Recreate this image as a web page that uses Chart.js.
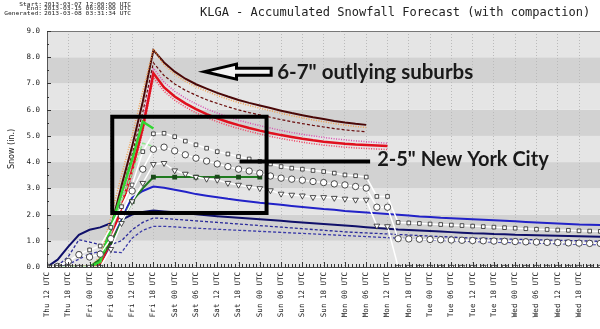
<!DOCTYPE html>
<html>
<head>
<meta charset="utf-8">
<script src="https://cdn.jsdelivr.net/npm/chart.js@4.4.0/dist/chart.umd.min.js"></script>
<style>
  html, body { margin: 0; padding: 0; overflow: hidden; background: #fff; }
  #wrap { width: 640px; height: 329px; }
</style>
</head>
<body>
<div id="wrap"><canvas id="plume" width="640" height="329"></canvas></div>
<script>
// Forecast hours since Thu 12 UTC (3-hourly)
const hours = [0, 3, 6, 9, 12, 15, 18, 21, 24, 27, 30, 33, 36, 39, 42, 45, 48, 51, 54, 57,
    60, 63, 66, 69, 72, 75, 78, 81, 84, 87, 90, 93, 96, 99, 102, 105, 108, 111, 114, 117,
    120, 123, 126, 129, 132, 135, 138, 141, 144, 147, 150, 153, 156];

// x tick labels, one every 6 hours
const tickLabels = ['Thu 12 UTC', 'Thu 18 UTC', 'Fri 00 UTC', 'Fri 06 UTC', 'Fri 12 UTC', 'Fri 18 UTC',
    'Sat 00 UTC', 'Sat 06 UTC', 'Sat 12 UTC', 'Sat 18 UTC', 'Sun 00 UTC', 'Sun 06 UTC',
    'Sun 12 UTC', 'Sun 18 UTC', 'Mon 00 UTC', 'Mon 06 UTC', 'Mon 12 UTC', 'Mon 18 UTC',
    'Tue 00 UTC', 'Tue 06 UTC', 'Tue 12 UTC', 'Tue 18 UTC', 'Wed 00 UTC', 'Wed 06 UTC',
    'Wed 12 UTC', 'Wed 18 UTC'];

// red / orange members
const brown = [0, 0, 0, 0, 0, 0.25, 1.5, 3.1, 4.6, 6.3, 8.27, 7.8, 7.45, 7.18, 6.97, 6.8, 6.64, 6.5, 6.37, 6.26,
    6.16, 6.06, 5.96, 5.87, 5.79, 5.71, 5.64, 5.57, 5.51, 5.46, 5.42];
const orange = [0, 0, 0, 0, 0, 0.4, 1.9, 3.5, 5.0, 6.7, 8.32, 7.7, 7.35, 7.08, 6.87, 6.7, 6.54, 6.4, 6.27, 6.16,
    6.06, 5.96, 5.86, 5.77, 5.69, 5.61, 5.54, 5.47, 5.41, 5.36, 5.32];
const darkRed = [0, 0, 0, 0, 0, 0.2, 1.3, 2.8, 4.3, 5.9, 7.79, 7.3, 6.98, 6.74, 6.55, 6.38, 6.24, 6.11, 5.99, 5.89,
    5.8, 5.71, 5.62, 5.54, 5.47, 5.4, 5.34, 5.28, 5.23, 5.19, 5.16];
const pink = [0, 0, 0, 0, 0, 0.15, 1.2, 2.6, 4.0, 5.6, 7.58, 7.05, 6.7, 6.44, 6.22, 6.03, 5.87, 5.73, 5.6, 5.49,
    5.39, 5.3, 5.21, 5.13, 5.06, 5.0, 4.94, 4.89, 4.85, 4.81, 4.78, 4.75, 4.72];
const red = [0, 0, 0, 0, 0, 0.1, 1.0, 2.3, 3.7, 5.3, 7.39, 6.85, 6.5, 6.24, 6.02, 5.83, 5.67, 5.53, 5.41, 5.3,
    5.2, 5.11, 5.03, 4.96, 4.89, 4.83, 4.78, 4.74, 4.7, 4.67, 4.65, 4.63, 4.61];
const redDot = [0, 0, 0, 0, 0, 0.05, 0.9, 2.2, 3.55, 5.15, 7.22, 6.7, 6.36, 6.1, 5.88, 5.7, 5.54, 5.4, 5.28, 5.17,
    5.07, 4.98, 4.9, 4.83, 4.76, 4.7, 4.65, 4.61, 4.57, 4.54, 4.52, 4.5, 4.48];

// green members
const green = [0, 0, 0, 0, 0, 0.2, 1.5, 2.8, 4.1, 5.54, 5.28];
const lime = [0, 0, 0, 0, 0, 0.15, 1.3, 2.5, 3.6, 4.72, 4.6];
const darkGreen = [0, 0, 0, 0, 0, 0.3, 0.94, 1.7, 2.5, 3.0, 3.43, 3.43, 3.43, 3.43, 3.43, 3.43, 3.43, 3.43, 3.43, 3.43, 3.43];

// white marker lines
const squares = [0, 0.05, 0.2, 0.5, 0.65, 0.8, 1.51, 2.3, 3.13, 4.4, 5.08, 5.1, 4.97, 4.8, 4.66, 4.53, 4.4, 4.31, 4.21, 4.12,
    4.03, 3.93, 3.83, 3.77, 3.73, 3.68, 3.64, 3.58, 3.51, 3.48, 3.43, 2.69, 2.69, 1.7, 1.68, 1.66, 1.64, 1.62, 1.6, 1.58,
    1.56, 1.54, 1.52, 1.5, 1.48, 1.46, 1.44, 1.43, 1.41, 1.4, 1.38, 1.37, 1.36];
const circles = [0, 0.02, 0.21, 0.47, 0.38, 0.49, 1.08, 1.95, 2.9, 3.73, 4.49, 4.57, 4.43, 4.28, 4.15, 4.04, 3.93, 3.83, 3.73, 3.66,
    3.58, 3.47, 3.39, 3.35, 3.31, 3.26, 3.22, 3.17, 3.13, 3.07, 3.01, 2.28, 2.28, 1.08, 1.07, 1.06, 1.05, 1.04, 1.03, 1.02,
    1.01, 1.0, 0.99, 0.98, 0.97, 0.96, 0.95, 0.94, 0.93, 0.92, 0.91, 0.9, 0.9];
const triangles = [0, 0, 0, 0, 0, 0, 0.68, 1.67, 2.5, 3.2, 3.92, 3.96, 3.68, 3.55, 3.43, 3.36, 3.32, 3.2, 3.13, 3.05,
    3.0, 2.92, 2.79, 2.75, 2.72, 2.66, 2.66, 2.63, 2.6, 2.56, 2.56, 1.57, 1.55, 0, 0, 0, 0, 0, 0, 0,
    0, 0, 0, 0, 0, 0, 0, 0, 0, 0, 0, 0, 0];

// blue members
const blue = [0, 0, 0, 0, 0, 0.1, 0.9, 1.9, 2.63, 2.9, 3.07, 3.02, 2.95, 2.87, 2.78, 2.72, 2.66, 2.6, 2.55, 2.5,
    2.45, 2.41, 2.37, 2.33, 2.29, 2.25, 2.21, 2.18, 2.14, 2.11, 2.08, 2.05, 2.02, 1.99, 1.96, 1.93, 1.91, 1.88, 1.86, 1.84,
    1.82, 1.8, 1.78, 1.76, 1.74, 1.72, 1.7, 1.68, 1.66, 1.64, 1.62, 1.61, 1.6];
const navy = [0, 0.28, 0.78, 1.23, 1.42, 1.51, 1.67, 1.8, 2.0, 2.1, 2.15, 2.12, 2.09, 2.05, 2.01, 1.97, 1.94, 1.91, 1.88, 1.85,
    1.82, 1.79, 1.76, 1.73, 1.7, 1.67, 1.64, 1.61, 1.58, 1.55, 1.52, 1.49, 1.46, 1.43, 1.41, 1.39, 1.37, 1.35, 1.33, 1.31,
    1.29, 1.28, 1.26, 1.25, 1.23, 1.22, 1.21, 1.2, 1.19, 1.18, 1.17, 1.16, 1.15];
const blueDash1 = [0, 0.05, 0.4, 1.04, 0.95, 0.85, 0.85, 1.0, 1.42, 1.7, 1.87, 1.85, 1.82, 1.79, 1.76, 1.73, 1.7, 1.67, 1.64, 1.61,
    1.58, 1.55, 1.52, 1.49, 1.46, 1.43, 1.4, 1.37, 1.34, 1.32, 1.3, 1.28, 1.26, 1.24, 1.22, 1.2, 1.18, 1.16, 1.14, 1.12,
    1.1, 1.09, 1.08, 1.07, 1.06, 1.05, 1.04, 1.03, 1.02, 1.01, 1.0, 0.99, 0.98];
const blueDash2 = [0, 0, 0.1, 0.3, 0.5, 0.6, 0.58, 0.55, 1.1, 1.4, 1.55, 1.55, 1.53, 1.5, 1.48, 1.46, 1.44, 1.42, 1.4, 1.38,
    1.36, 1.34, 1.32, 1.3, 1.28, 1.26, 1.24, 1.22, 1.2, 1.18, 1.16, 1.14, 1.12, 1.1, 1.08, 1.06, 1.04, 1.02, 1.0, 0.99,
    0.97, 0.96, 0.95, 0.94, 0.93, 0.92, 0.91, 0.9, 0.89, 0.88, 0.87, 0.86, 0.85];

// hand-drawn annotations (hours, inches)
const notes = {
    box: { x0: 18.4, x1: 61.9, y0: 5.73, y1: 2.06 },
    arrow: { tipX: 44.4, tailX: 63.2, y: 7.45 },
    text1: { x: 64.9, y: 7.42, text: '6-7" outlying suburbs' },
    line2: { x0: 54.3, x1: 91.1, y: 4.02 },
    text2: { x: 93.1, y: 4.1, text: '2-5" New York City' }
};

function pts(vals) {
    return vals.map((v, i) => ({ x: hours[i], y: v }));
}

function line(data, color, width, dash) {
    return {
        data: pts(data),
        borderColor: color,
        borderWidth: width,
        borderDash: dash || [],
        pointRadius: 0,
        tension: 0,
        fill: false
    };
}

function marked(data, style, radius, rotation) {
    return {
        data: pts(data),
        borderColor: '#ffffff',
        borderWidth: 1.5,
        pointStyle: style,
        pointRadius: radius,
        pointRotation: rotation || 0,
        pointBackgroundColor: '#ffffff',
        pointBorderColor: '#222222',
        pointBorderWidth: 0.8,
        tension: 0,
        fill: false
    };
}

const darkGreenSet = line(darkGreen, '#207a20', 2);
darkGreenSet.pointStyle = 'rect';
darkGreenSet.pointRadius = ctx => (ctx.dataIndex >= 6 && ctx.dataIndex % 2 === 0) ? 2 : 0;
darkGreenSet.pointBackgroundColor = '#1a4a1a';
darkGreenSet.pointBorderColor = '#1a4a1a';

// first dataset is drawn on top
const datasets = [
    marked(triangles, 'triangle', 3.3, 180),
    marked(circles, 'circle', 3.2),
    marked(squares, 'rect', 2.6),
    line(green, '#33d633', 2.5),
    line(lime, '#8ee88e', 1.5, [4, 2]),
    darkGreenSet,
    line(red, '#e0101e', 2.5),
    line(redDot, '#f04060', 1.5, [1, 1.5]),
    line(pink, '#d850b0', 1.5, [1, 1.5]),
    line(darkRed, '#6a0c0c', 1.2, [3, 2]),
    line(orange, '#f0a050', 1.5, [1, 1.5]),
    line(brown, '#4a0808', 2),
    line(blue, '#2222c8', 2),
    line(navy, '#10106a', 2),
    line(blueDash1, '#2a2a9a', 1.3, [3, 2]),
    line(blueDash2, '#3a3aa8', 1.3, [3, 2])
];

const bands = {
    id: 'bands',
    beforeDraw(chart) {
        const { ctx, chartArea: a, scales: { y } } = chart;
        ctx.save();
        for (let v = 0; v < 9; v++) {
            ctx.fillStyle = v % 2 ? '#d2d2d2' : '#e5e5e5';
            const top = y.getPixelForValue(v + 1);
            const bot = y.getPixelForValue(v);
            ctx.fillRect(a.left, top, a.right - a.left, bot - top);
        }
        ctx.restore();
    }
};

const extras = {
    id: 'extras',
    afterDraw(chart) {
        const { ctx, chartArea: a, scales: { x, y } } = chart;
        ctx.save();

        // frame top
        ctx.strokeStyle = '#777';
        ctx.lineWidth = 1;
        ctx.beginPath();
        ctx.moveTo(a.left, a.top + 0.5);
        ctx.lineTo(a.right, a.top + 0.5);
        ctx.stroke();

        // inside tick marks
        ctx.strokeStyle = '#333';
        ctx.beginPath();
        for (let h = 0; h <= x.max; h++) {
            const px = Math.round(x.getPixelForValue(h)) + 0.5;
            const len = h % 6 === 0 ? 5 : 3;
            ctx.moveTo(px, a.bottom);
            ctx.lineTo(px, a.bottom - len);
        }
        for (let v = 0; v <= 9; v += 0.5) {
            const py = Math.round(y.getPixelForValue(v)) + 0.5;
            const len = v % 1 === 0 ? 4 : 2;
            ctx.moveTo(a.left, py);
            ctx.lineTo(a.left + len, py);
        }
        ctx.stroke();

        // box around the NYC members
        const b = notes.box;
        ctx.strokeStyle = '#000';
        ctx.lineWidth = 4;
        ctx.strokeRect(x.getPixelForValue(b.x0), y.getPixelForValue(b.y0),
            x.getPixelForValue(b.x1) - x.getPixelForValue(b.x0),
            y.getPixelForValue(b.y1) - y.getPixelForValue(b.y0));

        // outline arrow
        const ar = notes.arrow;
        const tx = x.getPixelForValue(ar.tipX);
        const ex = x.getPixelForValue(ar.tailX);
        const cy = y.getPixelForValue(ar.y);
        const hx = tx + 32;
        ctx.beginPath();
        ctx.moveTo(tx, cy);
        ctx.lineTo(hx, cy - 7.5);
        ctx.lineTo(hx, cy - 3.5);
        ctx.lineTo(ex, cy - 3.5);
        ctx.lineTo(ex, cy + 3.5);
        ctx.lineTo(hx, cy + 3.5);
        ctx.lineTo(hx, cy + 7.5);
        ctx.closePath();
        ctx.fillStyle = '#f4f4f4';
        ctx.fill();
        ctx.lineWidth = 3;
        ctx.lineJoin = 'miter';
        ctx.stroke();

        // NYC pointer line
        const l2 = notes.line2;
        ctx.lineWidth = 4;
        ctx.beginPath();
        ctx.moveTo(x.getPixelForValue(l2.x0), y.getPixelForValue(l2.y));
        ctx.lineTo(x.getPixelForValue(l2.x1), y.getPixelForValue(l2.y));
        ctx.stroke();

        // annotation text
        ctx.fillStyle = '#1a1a1a';
        ctx.textBaseline = 'middle';
        ctx.textAlign = 'left';
        ctx.font = 'bold 20.5px Lato';
        ctx.fillText(notes.text1.text, x.getPixelForValue(notes.text1.x), y.getPixelForValue(notes.text1.y));
        ctx.font = 'bold 20px Lato';
        ctx.fillText(notes.text2.text, x.getPixelForValue(notes.text2.x), y.getPixelForValue(notes.text2.y));

        // header
        ctx.fillStyle = '#222';
        ctx.font = '12px "DejaVu Sans Mono"';
        ctx.fillText('KLGA - Accumulated Snowfall Forecast (with compaction)', 200, 13);
        ctx.font = '8px "DejaVu Sans Mono"';
        const rows = [['Start:', '2013-03-07 12:00:00 UTC'], ['End:', '2013-03-15 06:00:00 UTC'],
            ['Generated:', '2013-03-08 03:31:34 UTC']];
        const sx = 87 / ctx.measureText(rows[0][1]).width;
        rows.forEach((r, i) => {
            const ty = 4.3 + i * 4.6;
            ctx.save();
            ctx.translate(42, ty);
            ctx.scale(sx, 0.6);
            ctx.textAlign = 'right';
            ctx.fillText(r[0], 0, 0);
            ctx.textAlign = 'left';
            ctx.fillText(r[1], 2 / sx, 0);
            ctx.restore();
        });
        ctx.restore();
    }
};

new Chart(document.getElementById('plume'), {
    type: 'line',
    data: { datasets: datasets },
    options: {
        responsive: false,
        animation: false,
        layout: { padding: { top: 31, left: 0, right: 0, bottom: 0 } },
        plugins: { legend: { display: false }, tooltip: { enabled: false } },
        scales: {
            x: {
                type: 'linear',
                min: 0,
                max: 165.5,
                afterFit(s) { s.paddingLeft = 0; s.paddingRight = 0; s.height = 62; },
                ticks: {
                    stepSize: 1,
                    autoSkip: false,
                    maxTicksLimit: 1000,
                    minRotation: 90,
                    maxRotation: 90,
                    padding: 5,
                    color: '#222',
                    font: { family: 'DejaVu Sans Mono', size: 7.5 },
                    callback: v => (v % 6 === 0 && tickLabels[v / 6]) ? tickLabels[v / 6] : ''
                },
                grid: {
                    drawTicks: false,
                    color: c => (c.tick && c.tick.value % 6 === 0 && c.tick.value > 0) ? '#bababa' : 'rgba(0,0,0,0)'
                },
                border: { color: '#444', dash: [1, 2] }
            },
            y: {
                min: 0,
                max: 9,
                afterFit(s) { s.width = 47; },
                ticks: {
                    stepSize: 1,
                    padding: 7,
                    color: '#222',
                    font: { family: 'DejaVu Sans Mono', size: 7.5 },
                    callback: v => v.toFixed(1)
                },
                grid: { drawTicks: false, color: 'rgba(0,0,0,0)' },
                border: { color: '#555' },
                title: {
                    display: true,
                    text: 'Snow (in.)',
                    color: '#222',
                    font: { family: 'DejaVu Sans', size: 8 },
                    padding: { top: 7, bottom: 0 }
                }
            }
        }
    },
    plugins: [bands, extras]
});
</script>
</body>
</html>
